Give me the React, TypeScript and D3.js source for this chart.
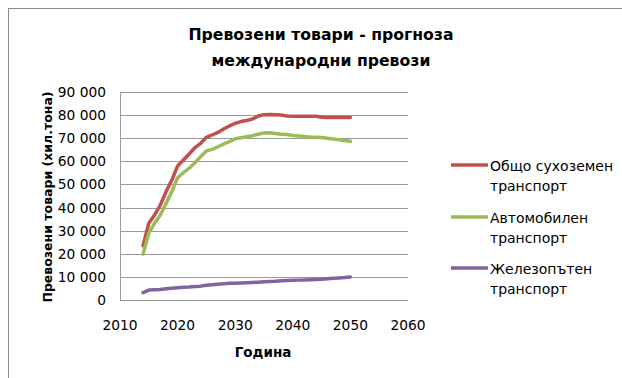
import React from "react";
import * as d3 from "d3";

const years = [2014,2015,2016,2017,2018,2019,2020,2021,2022,2023,2024,2025,2026,2027,2028,2029,2030,2031,2032,2033,2034,2035,2036,2037,2038,2039,2040,2041,2042,2043,2044,2045,2046,2047,2048,2049,2050];
const total = [23500,33200,36800,41100,46900,51900,58000,60600,63200,65900,67800,70400,71400,72500,74000,75300,76400,77200,77700,78300,79600,80200,80300,80200,80000,79600,79500,79500,79500,79500,79500,79100,79000,79000,79000,79000,79000];
const road = [19900,28900,33200,36800,41800,46900,52900,55100,57000,59400,62000,64500,65200,66300,67500,68500,69800,70200,70600,71100,71700,72300,72400,72000,71700,71600,71200,71000,70700,70500,70400,70300,70000,69700,69300,69000,68700];
const rail = [3200,4300,4400,4500,4900,5100,5300,5500,5600,5800,6000,6400,6600,6800,7000,7200,7300,7400,7500,7600,7700,7900,8000,8100,8300,8400,8500,8600,8700,8800,8900,9000,9200,9400,9500,9700,10000];
const seriesNames = [["Общо сухоземен", "транспорт"], ["Автомобилен", "транспорт"], ["Железопътен", "транспорт"]];
const colors = ["#C0504D", "#9BBB59", "#8064A2"];
const yTicks = [0,10000,20000,30000,40000,50000,60000,70000,80000,90000];
const xTicks = [2010,2020,2030,2040,2050,2060];

const font = "'DejaVu Sans', sans-serif";

export default function App() {
  const x = d3.scaleLinear().domain([2010, 2060]).range([120, 408]);
  const y = d3.scaleLinear().domain([0, 90000]).range([300, 92]);
  const fmt = (v: number) => (v >= 1000 ? `${Math.floor(v / 1000)} ${String(v % 1000).padStart(3, "0")}` : String(v));
  const line = d3.line<number>().x((_, i) => x(years[i])).y((d) => y(d));
  const data = [total, road, rail];
  const legendY = [165, 217, 268];
  return (
    <svg width={622} height={378} style={{ position: "absolute", left: 0, top: 0, background: "#fff" }}>
      <rect x={8.5} y={8.5} width={630} height={390} fill="#fff" stroke="#8c8c8c" strokeWidth={1} />
      <text x={321} y={40} textAnchor="middle" fontFamily={font} fontWeight="bold" fontSize={15.7} fill="#000">Превозени товари - прогноза</text>
      <text x={321} y={66} textAnchor="middle" fontFamily={font} fontWeight="bold" fontSize={15.7} fill="#000">международни превози</text>
      {yTicks.map((t) => (
        <g key={t}>
          <line x1={120} x2={408} y1={Math.round(y(t)) + 0.5} y2={Math.round(y(t)) + 0.5} stroke="#9a9a9a" strokeWidth={1} />
          <text x={106} y={y(t) + 5} textAnchor="end" fontFamily={font} fontSize={13.8} fill="#000">{fmt(t)}</text>
        </g>
      ))}
      <line x1={120.5} x2={120.5} y1={92} y2={300} stroke="#9a9a9a" strokeWidth={1} />
      {xTicks.map((t) => (
        <text key={t} x={x(t)} y={330} textAnchor="middle" fontFamily={font} fontSize={13.8} fill="#000">{t}</text>
      ))}
      <text x={263} y={357} textAnchor="middle" fontFamily={font} fontWeight="bold" fontSize={13.5} fill="#000">Година</text>
      <text transform="translate(52,197) rotate(-90)" textAnchor="middle" fontFamily={font} fontWeight="bold" fontSize={12.5} fill="#000">Превозени товари  (хил.тона)</text>
      {data.map((d, i) => (
        <path key={i} d={line(d) || ""} fill="none" stroke={colors[i]} strokeWidth={3.5} strokeLinejoin="round" strokeLinecap="round" />
      ))}
      {seriesNames.map((n, i) => (
        <g key={i}>
          <line x1={451} x2={488} y1={legendY[i]} y2={legendY[i]} stroke={colors[i]} strokeWidth={3.5} />
          <text x={490} y={legendY[i] + 5.5} fontFamily={font} fontSize={14} fill="#000">{n[0]}</text>
          <text x={490} y={legendY[i] + 25.5} fontFamily={font} fontSize={14} fill="#000">{n[1]}</text>
        </g>
      ))}
    </svg>
  );
}
